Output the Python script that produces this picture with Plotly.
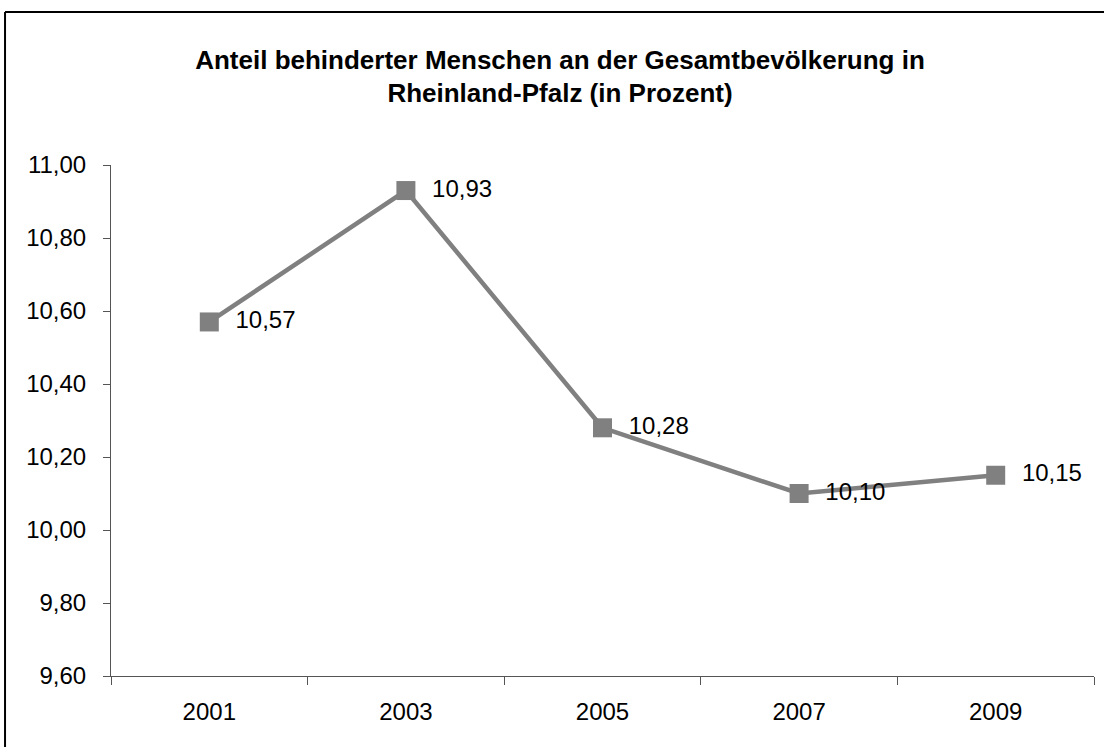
import plotly.graph_objects as go

# Daten aus dem Diagramm
jahre = ["2001", "2003", "2005", "2007", "2009"]
anteil = [10.57, 10.93, 10.28, 10.10, 10.15]
y_ticks = [9.6, 9.8, 10.0, 10.2, 10.4, 10.6, 10.8, 11.0]

titel = ("Anteil behinderter Menschen an der Gesamtbevölkerung in"
         "<br>Rheinland-Pfalz (in Prozent)")

grau = "#808080"
achse = "#555555"

fig = go.Figure()

fig.add_trace(go.Scatter(
    x=jahre,
    y=anteil,
    mode="lines+markers+text",
    line=dict(color=grau, width=4.5),
    marker=dict(symbol="square", size=19, color=grau),
    texttemplate="  %{y:.2f}",
    textposition="middle right",
    textfont=dict(size=24, color="black"),
    cliponaxis=False,
    hoverinfo="skip",
))

# Rahmen um das Diagramm: nur links und oben sichtbar
fig.add_shape(
    type="line", xref="paper", yref="paper",
    x0=-0.1078, x1=-0.1078, y0=-0.3, y1=1.2994,
    line=dict(color="black", width=2), layer="above",
)
fig.add_shape(
    type="line", xref="paper", yref="paper",
    x0=-0.1078, x1=1.3, y0=1.2994, y1=1.2994,
    line=dict(color="black", width=2), layer="above",
)

fig.update_layout(
    width=1104,
    height=747,
    margin=dict(l=111, r=10, t=165, b=71),
    separators=",.",
    font=dict(family="Liberation Sans, Arial, sans-serif", size=24, color="black"),
    title=dict(
        text=f"<b>{titel}</b>",
        x=560 / 1104, xref="container", xanchor="center",
        y=1 - 68.5 / 747, yref="container", yanchor="middle",
        font=dict(size=26, color="black"),
    ),
    plot_bgcolor="white",
    paper_bgcolor="white",
    showlegend=False,
    xaxis=dict(
        type="category",
        range=[-0.5, 4.5],
        tickson="boundaries",
        ticks="outside",
        ticklen=8,
        tickcolor=achse,
        showline=True,
        linecolor=achse,
        linewidth=1,
        showgrid=False,
        ticklabelstandoff=14,
        tickfont=dict(size=24),
    ),
    yaxis=dict(
        range=[9.6, 11.0],
        tickvals=y_ticks,
        tickformat=".2f",
        ticks="outside",
        ticklen=7,
        tickcolor=achse,
        showline=True,
        linecolor=achse,
        linewidth=1,
        showgrid=False,
        zeroline=False,
        ticklabelstandoff=12,
        tickfont=dict(size=24),
    ),
)

fig.write_html(
    "out.html",
    config={"displayModeBar": False},
    post_script="document.body.style.margin='0';",
)
